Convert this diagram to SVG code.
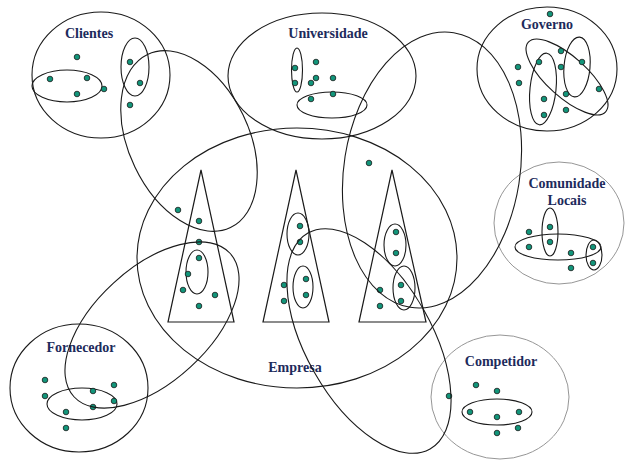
<svg xmlns="http://www.w3.org/2000/svg" width="628" height="460" viewBox="0 0 628 460">
  <style>
    .ring { fill: none; stroke: #1a1a1a; stroke-width: 1.1; }
    .thin { fill: none; stroke: #8a8a8a; stroke-width: 0.9; }
    .grp { fill: none; stroke: #1a1a1a; stroke-width: 1.1; }
    .link { fill: none; stroke: #1a1a1a; stroke-width: 1.1; }
    .tri { fill: none; stroke: #1a1a1a; stroke-width: 1.2; }
    .lbl { font-family: "Liberation Serif", "Times New Roman", serif; font-weight: bold; font-size: 14px; fill: #1d2b5c; text-anchor: middle; }
  </style>
  <defs>
    <circle id="d" r="2.8" fill="#12957a" stroke="#1a1a1a" stroke-width="0.8"/>
  </defs>
  <rect width="628" height="460" fill="#ffffff"/>

  <!-- Clientes -->
  <g id="clientes">
    <ellipse class="ring" cx="101" cy="75" rx="69" ry="63"/>
    <text class="lbl" x="89" y="38">Clientes</text>
    <ellipse class="grp" cx="67" cy="86" rx="35" ry="16"/>
    <ellipse class="grp" cx="135" cy="67" rx="14" ry="29"/>
    <use href="#d" x="77" y="57"/>
    <use href="#d" x="50" y="79"/>
    <use href="#d" x="87" y="78"/>
    <use href="#d" x="77" y="94"/>
    <use href="#d" x="104" y="89"/>
    <use href="#d" x="130" y="62"/>
    <use href="#d" x="140" y="83"/>
    <use href="#d" x="130" y="105"/>
  </g>

  <!-- Universidade -->
  <g id="universidade">
    <ellipse class="ring" cx="322" cy="76" rx="94" ry="63"/>
    <text class="lbl" x="328" y="38">Universidade</text>
    <ellipse class="grp" cx="297" cy="70" rx="5.5" ry="22"/>
    <ellipse class="grp" cx="332" cy="105" rx="35" ry="13"/>
    <use href="#d" x="295" y="68"/>
    <use href="#d" x="295" y="83"/>
    <use href="#d" x="316" y="62"/>
    <use href="#d" x="311" y="83"/>
    <use href="#d" x="316" y="78"/>
    <use href="#d" x="333" y="78"/>
    <use href="#d" x="311" y="99"/>
    <use href="#d" x="333" y="94"/>
  </g>

  <!-- Governo -->
  <g id="governo">
    <ellipse class="ring" cx="547" cy="69" rx="70" ry="62"/>
    <text class="lbl" x="547" y="29">Governo</text>
    <ellipse class="grp" cx="567" cy="77" rx="52" ry="20" transform="rotate(42 567 77)"/>
    <ellipse class="grp" cx="543" cy="89" rx="13" ry="36" transform="rotate(6 543 89)"/>
    <ellipse class="grp" cx="577" cy="67" rx="13" ry="30" transform="rotate(5 577 67)"/>
    <use href="#d" x="550" y="14"/>
    <use href="#d" x="518" y="67"/>
    <use href="#d" x="519" y="83"/>
    <use href="#d" x="539" y="62"/>
    <use href="#d" x="561" y="51"/>
    <use href="#d" x="561" y="67"/>
    <use href="#d" x="582" y="62"/>
    <use href="#d" x="599" y="89"/>
    <use href="#d" x="566" y="94"/>
    <use href="#d" x="544" y="99"/>
    <use href="#d" x="566" y="110"/>
    <use href="#d" x="544" y="115"/>
  </g>

  <!-- Comunidade Locais -->
  <g id="comunidade">
    <ellipse class="thin" cx="559" cy="223" rx="65" ry="61"/>
    <text class="lbl" x="567" y="188">Comunidade</text>
    <text class="lbl" x="567" y="205">Locais</text>
    <ellipse class="grp" cx="550" cy="232" rx="8" ry="24"/>
    <ellipse class="grp" cx="558" cy="247" rx="43" ry="13"/>
    <ellipse class="grp" cx="594" cy="255" rx="8" ry="15"/>
    <use href="#d" x="529" y="232"/>
    <use href="#d" x="550" y="227"/>
    <use href="#d" x="529" y="247"/>
    <use href="#d" x="550" y="242"/>
    <use href="#d" x="571" y="253"/>
    <use href="#d" x="571" y="268"/>
    <use href="#d" x="593" y="247"/>
    <use href="#d" x="593" y="263"/>
  </g>

  <!-- Fornecedor -->
  <g id="fornecedor">
    <ellipse class="ring" cx="79" cy="388" rx="69" ry="64"/>
    <text class="lbl" x="81" y="352">Fornecedor</text>
    <ellipse class="grp" cx="82" cy="404" rx="35" ry="16"/>
    <use href="#d" x="45" y="380"/>
    <use href="#d" x="45" y="396"/>
    <use href="#d" x="93" y="391"/>
    <use href="#d" x="114" y="385"/>
    <use href="#d" x="114" y="401"/>
    <use href="#d" x="93" y="407"/>
    <use href="#d" x="66" y="412"/>
    <use href="#d" x="66" y="428"/>
  </g>

  <!-- Competidor -->
  <g id="competidor">
    <ellipse class="thin" cx="500" cy="397" rx="69" ry="62"/>
    <text class="lbl" x="501" y="366">Competidor</text>
    <ellipse class="grp" cx="497" cy="412" rx="35" ry="13"/>
    <use href="#d" x="449" y="396"/>
    <use href="#d" x="476" y="385"/>
    <use href="#d" x="497" y="391"/>
    <use href="#d" x="470" y="412"/>
    <use href="#d" x="497" y="417"/>
    <use href="#d" x="519" y="412"/>
    <use href="#d" x="518" y="428"/>
    <use href="#d" x="497" y="433"/>
  </g>

  <!-- Empresa with its three units -->
  <g id="empresa">
    <ellipse class="ring" cx="297" cy="258" rx="160" ry="130"/>
    <text class="lbl" x="295" y="372">Empresa</text>
    <polygon class="tri" points="201,170 168,322 234,322"/>
    <polygon class="tri" points="296,170 263,322 329,322"/>
    <polygon class="tri" points="392,170 359,322 426,322"/>
    <ellipse class="grp" cx="197" cy="272" rx="11" ry="22"/>
    <ellipse class="grp" cx="298" cy="234" rx="11" ry="21"/>
    <ellipse class="grp" cx="303" cy="287" rx="10" ry="21"/>
    <ellipse class="grp" cx="395" cy="245" rx="11" ry="21"/>
    <ellipse class="grp" cx="404" cy="288" rx="11" ry="22"/>
    <use href="#d" x="178" y="210"/>
    <use href="#d" x="199" y="221"/>
    <use href="#d" x="199" y="242"/>
    <use href="#d" x="199" y="258"/>
    <use href="#d" x="188" y="274"/>
    <use href="#d" x="183" y="290"/>
    <use href="#d" x="215" y="295"/>
    <use href="#d" x="199" y="306"/>
    <use href="#d" x="300" y="226"/>
    <use href="#d" x="300" y="242"/>
    <use href="#d" x="284" y="285"/>
    <use href="#d" x="284" y="301"/>
    <use href="#d" x="306" y="279"/>
    <use href="#d" x="306" y="295"/>
    <use href="#d" x="369" y="163"/>
    <use href="#d" x="396" y="232"/>
    <use href="#d" x="396" y="253"/>
    <use href="#d" x="380" y="290"/>
    <use href="#d" x="380" y="306"/>
    <use href="#d" x="401" y="285"/>
    <use href="#d" x="401" y="301"/>
  </g>

  <!-- links between stakeholders and the company -->
  <g id="connectors">
    <ellipse class="link" cx="189" cy="141" rx="96" ry="60" transform="rotate(64.4 189 141)"/>
    <ellipse class="link" cx="432" cy="170" rx="88" ry="139" transform="rotate(9 432 170)"/>
    <ellipse class="link" cx="152" cy="325" rx="106" ry="57" transform="rotate(-42.6 152 325)"/>
    <ellipse class="link" cx="369" cy="341" rx="124" ry="63" transform="rotate(60.5 369 341)"/>
  </g>
</svg>
